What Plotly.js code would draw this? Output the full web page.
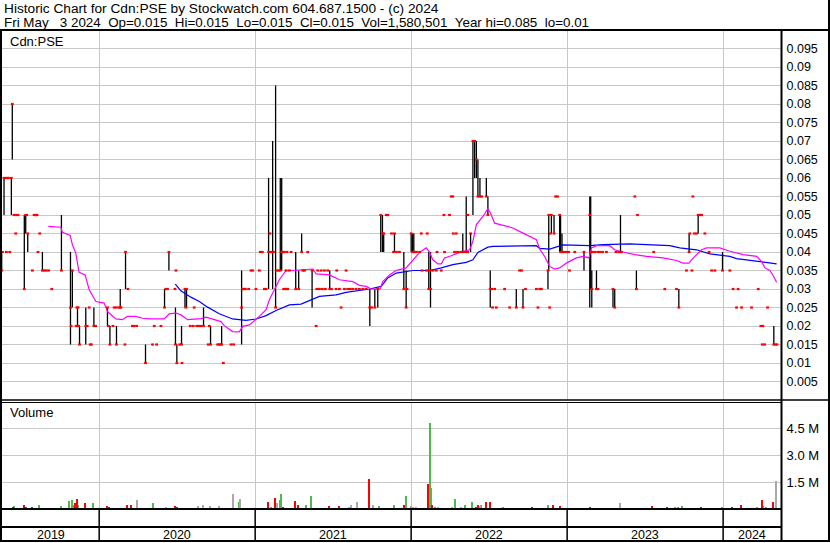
<!DOCTYPE html>
<html>
<head>
<meta charset="utf-8">
<script src="https://cdn.plot.ly/plotly-3.0.1.min.js"></script>
<style>html,body{margin:0;padding:0;background:#fff;}#chart{width:830px;height:543px;}</style>
</head>
<body>
<div id="chart"></div>
<script>
// ---- Data (time as decimal year) ----
// bars: [time, high, low, close]
const bars2019 = [
[2019.375,.04,.035,.035],[2019.380,.04,.04,.04],[2019.390,.06,.05,.06],[2019.400,.06,.06,.06],
[2019.405,.04,.04,.04],[2019.413,.06,.06,.06],[2019.418,.06,.06,.06],[2019.427,.04,.04,.04],
[2019.437,.06,.05,.06],[2019.443,.08,.065,.08],[2019.454,.05,.05,.05],[2019.465,.045,.045,.045],
[2019.470,.05,.05,.05],[2019.480,.05,.05,.05],[2019.520,.05,.03,.03],[2019.529,.05,.045,.05],
[2019.536,.05,.05,.05],[2019.542,.045,.04,.045],[2019.572,.035,.035,.035],[2019.583,.05,.05,.05],
[2019.592,.05,.05,.05],[2019.602,.05,.05,.05],[2019.608,.04,.04,.04],[2019.619,.045,.045,.045],
[2019.636,.04,.035,.035],[2019.647,.035,.035,.035],[2019.660,.035,.035,.035],[2019.676,.035,.035,.035],
[2019.696,.03,.03,.03],[2019.758,.05,.035,.035],[2019.816,.04,.015,.025],[2019.820,.02,.02,.02],
[2019.828,.035,.025,.035],[2019.852,.02,.02,.02],[2019.857,.025,.025,.025],[2019.861,.025,.02,.02],
[2019.865,.025,.025,.025],[2019.868,.02,.02,.02],[2019.874,.02,.015,.015],[2019.914,.025,.015,.02],
[2019.923,.02,.02,.02],[2019.936,.025,.025,.025],[2019.942,.015,.015,.015],[2019.950,.015,.015,.015],
[2019.966,.025,.02,.02],[2019.977,.02,.02,.02]
];
const bars2020 = [
[2020.053,.025,.02,.025],[2020.060,.02,.02,.02],[2020.069,.02,.015,.015],[2020.088,.02,.02,.02],
[2020.096,.025,.025,.025],[2020.109,.025,.025,.025],[2020.111,.02,.015,.015],[2020.125,.025,.025,.025],
[2020.135,.03,.025,.025],[2020.139,.025,.025,.025],[2020.165,.015,.015,.015],[2020.169,.04,.03,.04],
[2020.184,.03,.03,.03],[2020.213,.02,.02,.02],[2020.224,.02,.02,.02],[2020.240,.02,.02,.02],
[2020.297,.015,.01,.01],[2020.342,.015,.015,.015],[2020.353,.02,.02,.02],[2020.368,.015,.015,.015],
[2020.396,.02,.02,.02],[2020.419,.03,.025,.025],[2020.427,.03,.03,.03],[2020.438,.03,.03,.03],
[2020.447,.04,.035,.04],[2020.486,.03,.03,.03],[2020.489,.025,.015,.015],[2020.492,.035,.035,.035],
[2020.498,.015,.01,.01],[2020.516,.015,.015,.015],[2020.528,.02,.015,.015],[2020.531,.01,.01,.01],
[2020.550,.03,.025,.03],[2020.556,.025,.025,.025],[2020.560,.03,.025,.03],[2020.584,.02,.02,.02],
[2020.603,.02,.02,.02],[2020.609,.025,.025,.025],[2020.626,.02,.02,.02],[2020.640,.02,.02,.02],
[2020.653,.02,.02,.02],[2020.669,.025,.02,.02],[2020.699,.015,.015,.015],[2020.706,.02,.02,.02],
[2020.714,.02,.015,.015],[2020.759,.015,.015,.015],[2020.770,.015,.015,.015],[2020.776,.015,.015,.015],
[2020.785,.02,.015,.015],[2020.796,.01,.01,.01],[2020.845,.015,.015,.015],[2020.862,.015,.015,.015],
[2020.913,.035,.015,.025],[2020.920,.03,.03,.03],[2020.930,.03,.03,.03],[2020.937,.03,.03,.03],
[2020.958,.03,.03,.03],[2020.973,.035,.035,.035],[2020.984,.035,.035,.035],[2021.005,.03,.03,.03]
];
const bars2021 = [
[2021.027,.035,.035,.035],[2021.033,.04,.04,.04],[2021.046,.04,.04,.04],[2021.059,.03,.03,.03],
[2021.070,.03,.03,.03],[2021.086,.06,.03,.04],[2021.095,.045,.045,.045],[2021.102,.04,.04,.04],
[2021.112,.07,.03,.04],[2021.117,.04,.04,.04],[2021.131,.085,.025,.025],[2021.138,.035,.035,.035],
[2021.151,.035,.035,.035],[2021.161,.06,.035,.035],[2021.170,.06,.035,.04],[2021.176,.04,.04,.04],
[2021.183,.03,.03,.03],[2021.187,.04,.04,.04],[2021.198,.035,.035,.035],[2021.200,.03,.03,.03],
[2021.204,.04,.04,.04],[2021.208,.03,.03,.03],[2021.219,.035,.035,.035],[2021.230,.04,.04,.04],
[2021.260,.04,.03,.03],[2021.279,.035,.03,.03],[2021.298,.045,.04,.04],[2021.305,.035,.035,.035],
[2021.316,.035,.035,.035],[2021.337,.04,.04,.04],[2021.365,.035,.025,.035],[2021.391,.02,.02,.02],
[2021.395,.03,.03,.03],[2021.401,.035,.035,.035],[2021.412,.03,.03,.03],[2021.423,.035,.035,.035],
[2021.431,.03,.03,.03],[2021.444,.035,.035,.035],[2021.450,.03,.03,.03],[2021.465,.035,.035,.035],
[2021.478,.035,.03,.03],[2021.489,.03,.03,.03],[2021.519,.03,.03,.03],[2021.523,.035,.035,.035],
[2021.540,.03,.03,.03],[2021.551,.025,.025,.025],[2021.572,.03,.03,.03],[2021.583,.035,.035,.035],
[2021.593,.03,.03,.03],[2021.610,.03,.03,.03],[2021.626,.03,.03,.03],[2021.647,.03,.03,.03],
[2021.668,.03,.03,.03],[2021.690,.03,.03,.03],[2021.711,.03,.03,.03],[2021.735,.03,.02,.025],
[2021.746,.025,.025,.025],[2021.767,.03,.025,.025],[2021.786,.03,.025,.03],[2021.805,.05,.04,.05],
[2021.816,.05,.04,.045],[2021.824,.045,.04,.045],[2021.840,.05,.05,.05],[2021.850,.05,.05,.05],
[2021.874,.045,.045,.045],[2021.887,.04,.04,.04],[2021.893,.045,.04,.045],[2021.906,.04,.04,.04],
[2021.925,.04,.04,.04],[2021.953,.04,.03,.03],[2021.968,.035,.025,.025],[2021.973,.03,.03,.03]
];
const bars2022 = [
[2022.000,.045,.04,.045],[2022.009,.045,.04,.04],[2022.017,.045,.04,.04],[2022.022,.04,.04,.04],
[2022.034,.04,.04,.04],[2022.054,.04,.04,.04],[2022.065,.045,.045,.045],[2022.070,.035,.035,.035],
[2022.099,.035,.035,.035],[2022.103,.045,.045,.045],[2022.113,.04,.03,.03],[2022.118,.035,.035,.035],
[2022.124,.04,.025,.03],[2022.139,.035,.035,.035],[2022.161,.035,.035,.035],[2022.166,.04,.04,.04],
[2022.193,.035,.035,.035],[2022.210,.05,.05,.05],[2022.214,.04,.04,.04],[2022.246,.05,.05,.05],
[2022.257,.055,.055,.055],[2022.267,.055,.055,.055],[2022.270,.045,.045,.045],[2022.278,.04,.04,.04],
[2022.289,.045,.045,.045],[2022.297,.04,.04,.04],[2022.317,.04,.04,.04],[2022.331,.045,.04,.04],
[2022.336,.04,.04,.04],[2022.353,.055,.04,.04],[2022.362,.04,.04,.04],[2022.364,.05,.05,.05],
[2022.381,.045,.04,.045],[2022.396,.07,.05,.07],[2022.407,.07,.06,.07],[2022.418,.07,.06,.065],
[2022.428,.065,.055,.055],[2022.441,.06,.055,.055],[2022.452,.055,.055,.055],[2022.482,.06,.055,.055],
[2022.492,.055,.05,.05],[2022.507,.035,.025,.03],[2022.516,.03,.03,.03],[2022.522,.025,.025,.025],
[2022.535,.03,.03,.03],[2022.546,.025,.025,.025],[2022.599,.03,.03,.03],[2022.631,.025,.025,.025],
[2022.674,.03,.025,.025],[2022.695,.035,.035,.035],[2022.708,.035,.035,.035],[2022.717,.03,.025,.025],
[2022.733,.03,.03,.03],[2022.803,.03,.03,.03],[2022.813,.025,.025,.025],[2022.824,.03,.03,.03],
[2022.835,.03,.03,.03],[2022.877,.035,.03,.035],[2022.882,.05,.035,.05],[2022.888,.025,.025,.025],
[2022.892,.045,.045,.045],[2022.899,.05,.045,.05],[2022.916,.05,.045,.045],[2022.926,.055,.055,.055],
[2022.939,.055,.055,.055],[2022.952,.05,.04,.05],[2022.958,.05,.04,.04],[2022.967,.045,.04,.04],
[2022.971,.04,.04,.04],[2022.984,.04,.04,.04],[2022.997,.04,.04,.04]
];
const bars2023 = [
[2023.010,.04,.04,.04],[2023.015,.035,.035,.035],[2023.049,.04,.04,.04],[2023.108,.04,.035,.04],
[2023.145,.055,.025,.05],[2023.151,.055,.03,.04],[2023.158,.035,.025,.03],[2023.161,.04,.04,.04],
[2023.177,.04,.04,.04],[2023.188,.035,.03,.03],[2023.196,.04,.04,.04],[2023.198,.03,.03,.03],
[2023.209,.04,.04,.04],[2023.227,.04,.04,.04],[2023.252,.04,.04,.04],[2023.294,.03,.025,.03],
[2023.305,.03,.025,.025],[2023.313,.04,.04,.04],[2023.331,.04,.04,.04],[2023.342,.05,.04,.04],
[2023.348,.04,.04,.04],[2023.434,.055,.055,.055],[2023.444,.035,.03,.03],[2023.451,.05,.05,.05],
[2023.555,.04,.04,.04],[2023.626,.03,.03,.03],[2023.701,.03,.03,.03],[2023.716,.03,.025,.025],
[2023.765,.035,.035,.035],[2023.782,.045,.04,.04],[2023.787,.045,.045,.045],[2023.800,.035,.035,.035],
[2023.806,.055,.055,.055],[2023.815,.045,.045,.045],[2023.830,.045,.045,.045],[2023.840,.05,.045,.05],
[2023.851,.05,.05,.05],[2023.862,.05,.05,.05],[2023.883,.045,.045,.045],[2023.910,.04,.04,.04],
[2023.926,.035,.035,.035],[2023.947,.035,.035,.035],[2023.996,.04,.035,.035]
];
const bars2024 = [
[2024.043,.035,.035,.035],[2024.064,.03,.03,.03],[2024.086,.025,.025,.025],[2024.096,.03,.03,.03],
[2024.118,.025,.025,.025],[2024.182,.025,.025,.025],[2024.225,.03,.03,.03],[2024.242,.02,.02,.02],
[2024.251,.015,.015,.015],[2024.255,.02,.02,.02],[2024.266,.015,.015,.015],[2024.285,.025,.025,.025],
[2024.325,.02,.015,.015],[2024.336,.015,.015,.015],[2024.345,.015,.015,.015]
];

// moving averages: [time, value]
const maShort = [
[2019.674,.0469],[2019.754,.0467],[2019.764,.0453],[2019.814,.0445],[2019.828,.042],[2019.850,.0397],
[2019.871,.0345],[2019.910,.0338],[2019.936,.0298],[2019.957,.0284],[2019.979,.0266],[2020.032,.0262],
[2020.053,.0239],[2020.107,.0219],[2020.149,.0217],[2020.181,.0226],[2020.235,.0226],[2020.278,.0221],
[2020.321,.0219],[2020.417,.0219],[2020.449,.0233],[2020.492,.0235],[2020.524,.023],[2020.567,.0217],
[2020.610,.0219],[2020.653,.022],[2020.685,.0224],[2020.727,.0219],[2020.781,.0212],[2020.802,.0201],
[2020.855,.0185],[2020.898,.0184],[2020.920,.0199],[2020.963,.0203],[2021.006,.0217],[2021.027,.0226],
[2021.070,.0244],[2021.091,.0271],[2021.123,.0298],[2021.155,.0325],[2021.198,.035],[2021.240,.035],
[2021.369,.0354],[2021.391,.0341],[2021.476,.0338],[2021.540,.0325],[2021.626,.032],[2021.669,.031],
[2021.712,.0307],[2021.744,.030],[2021.801,.030],[2021.818,.032],[2021.861,.0338],[2021.904,.035],
[2021.968,.0357],[2022.011,.0379],[2022.054,.0399],[2022.097,.0411],[2022.118,.0399],[2022.139,.0379],
[2022.171,.0368],[2022.193,.0368],[2022.214,.0384],[2022.257,.039],[2022.310,.0399],[2022.375,.0406],
[2022.396,.0429],[2022.418,.0474],[2022.460,.0496],[2022.492,.0517],[2022.509,.0505],[2022.535,.0478],
[2022.567,.0474],[2022.652,.0465],[2022.717,.0451],[2022.803,.0433],[2022.824,.0408],[2022.856,.0388],
[2022.888,.0361],[2022.920,.0354],[2022.952,.0357],[2022.995,.037],[2023.059,.0384],[2023.102,.0388],
[2023.140,.0384],[2023.156,.0411],[2023.188,.0417],[2023.273,.0417],[2023.305,.0406],[2023.337,.0402],
[2023.433,.0393],[2023.509,.0388],[2023.615,.0384],[2023.701,.0377],[2023.743,.037],[2023.782,.037],
[2023.797,.0379],[2023.829,.0393],[2023.862,.0406],[2023.894,.0411],[2023.979,.0411],[2024.043,.0402],
[2024.129,.0393],[2024.215,.0388],[2024.247,.0374],[2024.268,.0357],[2024.300,.035],[2024.321,.0336],
[2024.343,.0318]
];
const maLong = [
[2020.488,.0313],[2020.524,.0295],[2020.588,.0278],[2020.642,.0266],[2020.695,.0251],[2020.770,.0233],
[2020.855,.0219],[2020.941,.0215],[2021.006,.0219],[2021.070,.0228],[2021.134,.0242],[2021.219,.0257],
[2021.294,.0259],[2021.348,.0269],[2021.412,.028],[2021.519,.0284],[2021.583,.0291],[2021.733,.030],
[2021.808,.0307],[2021.850,.033],[2021.904,.0343],[2022.011,.035],[2022.118,.035],[2022.193,.0357],
[2022.267,.0366],[2022.353,.0372],[2022.396,.0379],[2022.428,.0399],[2022.492,.0413],[2022.524,.0415],
[2022.738,.0417],[2022.803,.0417],[2022.824,.041],[2022.888,.0408],[2022.973,.0419],[2023.145,.0417],
[2023.230,.042],[2023.401,.0422],[2023.509,.042],[2023.658,.0417],[2023.722,.0411],[2023.829,.0406],
[2023.915,.0395],[2024.043,.0388],[2024.086,.0382],[2024.236,.0374],[2024.343,.0368]
];

// volume: [time, millions of shares, direction (1 up, -1 down, 0 unchanged)]
const vol2019 = [
[2019.371,.05,1],[2019.390,.05,-1],[2019.409,.06,1],[2019.429,.08,1],[2019.448,.1,-1],[2019.456,.19,1],
[2019.474,.05,-1],[2019.518,.25,-1],[2019.531,.12,-1],[2019.570,.1,-1],[2019.589,.06,1],[2019.615,.25,1],
[2019.647,.05,0],[2019.679,.05,0],[2019.711,.05,-1],[2019.756,.19,1],[2019.775,.04,-1],[2019.807,.44,1],
[2019.825,.48,1],[2019.833,.2,1],[2019.846,.33,-1],[2019.857,.54,-1],[2019.867,.25,1],[2019.884,.08,-1],
[2019.910,.33,-1],[2019.936,.08,1],[2019.961,.33,1],[2019.981,.06,-1]
];
const vol2020 = [
[2020.032,.06,0],[2020.047,.19,-1],[2020.064,.1,-1],[2020.090,.05,1],[2020.115,.04,-1],[2020.135,.05,0],
[2020.154,.05,1],[2020.178,.25,-1],[2020.203,.25,-1],[2020.212,.06,0],[2020.242,.48,0],[2020.289,.05,-1],
[2020.314,.06,0],[2020.342,.31,1],[2020.366,.05,1],[2020.398,.06,1],[2020.428,.1,0],[2020.449,.06,-1],
[2020.475,.08,1],[2020.486,.19,-1],[2020.500,.1,-1],[2020.520,.05,0],[2020.545,.06,-1],[2020.577,.06,0],
[2020.603,.05,1],[2020.633,.19,0],[2020.667,.25,0],[2020.693,.06,-1],[2020.710,.19,0],[2020.738,.06,1],
[2020.770,.19,0],[2020.802,.06,1],[2020.821,.05,0],[2020.855,.83,0],[2020.885,.06,0],[2020.898,.38,1],
[2020.905,.54,0],[2020.930,.06,1],[2020.963,.08,1],[2020.995,.05,1]
];
const vol2021 = [
[2021.027,.05,1],[2021.059,.05,-1],[2021.080,.38,-1],[2021.104,.1,1],[2021.125,.6,-1],[2021.142,.33,0],
[2021.160,.48,1],[2021.168,.83,1],[2021.181,.1,-1],[2021.200,.06,1],[2021.219,.05,1],[2021.256,.44,-1],
[2021.277,.25,-1],[2021.296,.06,1],[2021.326,.25,1],[2021.358,.73,1],[2021.380,.06,-1],[2021.412,.05,1],
[2021.444,.06,1],[2021.471,.15,-1],[2021.495,.06,-1],[2021.514,.05,1],[2021.540,.19,-1],[2021.572,.05,0],
[2021.604,.1,0],[2021.617,.25,0],[2021.654,.38,0],[2021.681,.06,0],[2021.707,.06,0],[2021.728,1.67,-1],
[2021.754,.25,0],[2021.771,.06,0],[2021.797,.19,1],[2021.829,.06,0],[2021.861,.06,-1],[2021.893,.25,1],
[2021.925,.05,-1],[2021.953,.25,-1],[2021.970,.73,1],[2021.989,.06,0]
];
const vol2022 = [
[2022.000,.19,0],[2022.009,.1,0],[2022.028,.12,0],[2022.047,.08,-1],[2022.066,.06,1],[2022.086,.05,0],
[2022.107,1.4,-1],[2022.118,4.8,1],[2022.126,1.2,1],[2022.133,.25,-1],[2022.150,.1,1],[2022.169,.1,0],
[2022.188,.06,0],[2022.214,.06,-1],[2022.233,.06,1],[2022.259,.1,0],[2022.278,.54,1],[2022.297,.08,0],
[2022.317,.1,0],[2022.342,.25,1],[2022.362,.06,-1],[2022.392,.38,1],[2022.413,.1,-1],[2022.426,.2,-1],
[2022.439,.15,0],[2022.450,.25,1],[2022.477,.38,-1],[2022.503,.38,-1],[2022.522,.06,-1],[2022.586,.1,1],
[2022.631,.05,-1],[2022.663,.06,-1],[2022.695,.06,0],[2022.738,.08,-1],[2022.772,.1,-1],[2022.792,.05,1],
[2022.877,.25,1],[2022.909,.25,-1],[2022.952,.19,-1],[2022.978,.05,0]
];
const vol2023 = [
[2023.016,.05,0],[2023.048,.06,0],[2023.080,.05,-1],[2023.112,.05,0],[2023.145,.13,-1],[2023.177,.05,0],
[2023.209,.06,-1],[2023.241,.05,0],[2023.273,.06,0],[2023.305,.06,-1],[2023.337,.33,0],[2023.369,.06,1],
[2023.401,.05,0],[2023.453,.06,-1],[2023.498,.05,0],[2023.547,.15,-1],[2023.594,.05,0],[2023.643,.1,-1],
[2023.690,.1,1],[2023.709,.13,1],[2023.735,.15,1],[2023.761,.06,0],[2023.786,.06,0],[2023.818,.06,0],
[2023.855,.1,-1],[2023.883,.06,0],[2023.915,.05,0],[2023.947,.05,0],[2023.990,.13,1]
];
const vol2024 = [
[2024.011,.05,0],[2024.054,.12,-1],[2024.075,.06,1],[2024.112,.2,-1],[2024.139,.05,0],[2024.171,.05,0],
[2024.214,.1,1],[2024.247,.48,-1],[2024.257,.15,1],[2024.274,.1,1],[2024.300,.05,0],[2024.317,.38,-1],
[2024.338,1.58,0]
];

const years = [2019, 2020, 2021, 2022, 2023, 2024];
const priceTicks = [0.005,0.01,0.015,0.02,0.025,0.03,0.035,0.04,0.045,0.05,0.055,0.06,0.065,0.07,0.075,0.08,0.085,0.09,0.095];
const priceTickText = ['0.005','0.01','0.015','0.02','0.025','0.03','0.035','0.04','0.045','0.05','0.055','0.06','0.065','0.07','0.075','0.08','0.085','0.09','0.095'];
const volTicks = [1.5, 3.0, 4.5];
const volTickText = ['1.5 M', '3.0 M', '4.5 M'];
const headerLine1 = 'Historic Chart for Cdn:PSE by Stockwatch.com 604.687.1500 - (c) 2024';
const headerLine2 = 'Fri May\u00a0\u00a0 3 2024\u00a0\u00a0Op=0.015\u00a0\u00a0Hi=0.015\u00a0\u00a0Lo=0.015\u00a0\u00a0Cl=0.015\u00a0\u00a0Vol=1,580,501\u00a0\u00a0Year hi=0.085\u00a0\u00a0lo=0.01';

// ---- Build traces ----
const W = 830, H = 543;
const px = v => v / W;           // pixel -> paper x
const py = v => 1 - v / H;       // pixel -> paper y
const xRange = [2019.377, 2024.371];

const bars = [].concat(bars2019, bars2020, bars2021, bars2022, bars2023, bars2024);
const vols = [].concat(vol2019, vol2020, vol2021, vol2022, vol2023, vol2024);

const hlX = [], hlY = [];
bars.forEach(b => { if (b[1] > b[2]) { hlX.push(b[0], b[0], null); hlY.push(b[2], b[1], null); } });

const traces = [
  {type:'scatter', mode:'lines', x:hlX, y:hlY, line:{color:'#000', width:1.3}, xaxis:'x', yaxis:'y', hoverinfo:'skip'},
  {type:'scatter', mode:'lines', x:maLong.map(p=>p[0]), y:maLong.map(p=>p[1]), line:{color:'#0000ff', width:1.2}, xaxis:'x', yaxis:'y'},
  {type:'scatter', mode:'lines', x:maShort.map(p=>p[0]), y:maShort.map(p=>p[1]), line:{color:'#ff00ff', width:1.2}, xaxis:'x', yaxis:'y'},
  {type:'scatter', mode:'markers', x:bars.map(b=>b[0]), y:bars.map(b=>b[3]),
   marker:{symbol:'line-ew', size:2, line:{color:'#ff0000', width:2.2}}, xaxis:'x', yaxis:'y'}
];
const volColors = {'1':'#4cbb4c', '-1':'#ff0000', '0':'#a9a9a9'};
[1, -1, 0].forEach(d => {
  const sel = vols.filter(v => v[2] === d);
  traces.push({type:'bar', x:sel.map(v=>v[0]), y:sel.map(v=>v[1]), width:0.0128,
    marker:{color:volColors[String(d)], line:{width:0}}, xaxis:'x', yaxis:'y2'});
});

// ---- Layout ----
const shapes = [];
const hline = (y, x0, x1, w) => shapes.push({type:'line', xref:'paper', yref:'paper', x0:px(x0), x1:px(x1), y0:py(y), y1:py(y), line:{color:'#000', width:w}});
const vline = (x, y0, y1, w) => shapes.push({type:'line', xref:'paper', yref:'paper', x0:px(x), x1:px(x), y0:py(y0), y1:py(y1), line:{color:'#000', width:w}});
hline(30, 0, 830, 2);
hline(400, 0, 830, 1.5);
hline(402.5, 0, 781, 1);
hline(509, 0, 781.5, 2);
hline(527, 0, 781.5, 2);
hline(541, 0, 830, 2);
vline(1, 30, 542, 2);
vline(781.5, 29, 542, 2);
vline(829, 0, 542, 2);
years.slice(1).forEach(yr => shapes.push({type:'line', xref:'x', yref:'paper', x0:yr, x1:yr, y0:py(509), y1:py(541), line:{color:'#000', width:1.5}}));

const font = 'Liberation Sans, Arial, sans-serif';
const annotations = [
  {text:headerLine1, xref:'paper', yref:'paper', x:px(2), y:py(9), xanchor:'left', yanchor:'middle', showarrow:false, font:{family:font, size:13.7, color:'#000'}},
  {text:headerLine2, xref:'paper', yref:'paper', x:px(2), y:py(22), xanchor:'left', yanchor:'middle', showarrow:false, font:{family:font, size:13.4, color:'#000'}},
  {text:'Cdn:PSE', xref:'paper', yref:'paper', x:px(8), y:py(41), xanchor:'left', yanchor:'middle', showarrow:false, font:{family:font, size:13, color:'#000'}},
  {text:'Volume', xref:'paper', yref:'paper', x:px(8), y:py(413), xanchor:'left', yanchor:'middle', showarrow:false, font:{family:font, size:13, color:'#000'}}
];
years.forEach(yr => {
  const a = Math.max(yr, xRange[0]), b = Math.min(yr + 1, xRange[1]);
  annotations.push({text:String(yr), xref:'x', yref:'paper', x:(a+b)/2, y:py(534.5), xanchor:'center', yanchor:'middle', showarrow:false, font:{family:font, size:12.5, color:'#000'}});
});

const layout = {
  width:W, height:H, margin:{l:0, r:0, t:0, b:0}, paper_bgcolor:'#fff', plot_bgcolor:'#fff',
  showlegend:false, hovermode:false, bargap:0, font:{family:font, color:'#000'},
  xaxis:{domain:[px(2), px(781)], range:xRange, anchor:'y', tickvals:years.slice(1), showticklabels:false,
         ticks:'', showgrid:true, gridcolor:'#c8c8c8', gridwidth:1, zeroline:false, showline:false},
  yaxis:{domain:[py(400), py(30)], range:[0, 0.1], side:'right', anchor:'x', tickvals:priceTicks, ticktext:priceTickText,
         ticks:'outside', ticklen:2, tickcolor:'rgba(0,0,0,0)', tickfont:{family:font, size:12.5, color:'#000'},
         showgrid:true, gridcolor:'#c8c8c8', gridwidth:1, zeroline:false, showline:false},
  yaxis2:{domain:[py(509), py(402)], range:[0, 6], side:'right', anchor:'x', tickvals:volTicks, ticktext:volTickText,
         ticks:'outside', ticklen:2, tickcolor:'rgba(0,0,0,0)', tickfont:{family:font, size:13, color:'#000'},
         showgrid:true, gridcolor:'#c8c8c8', gridwidth:1, zeroline:false, showline:false},
  shapes:shapes, annotations:annotations
};

Plotly.newPlot('chart', traces, layout, {staticPlot:true, displayModeBar:false});
</script>
</body>
</html>
